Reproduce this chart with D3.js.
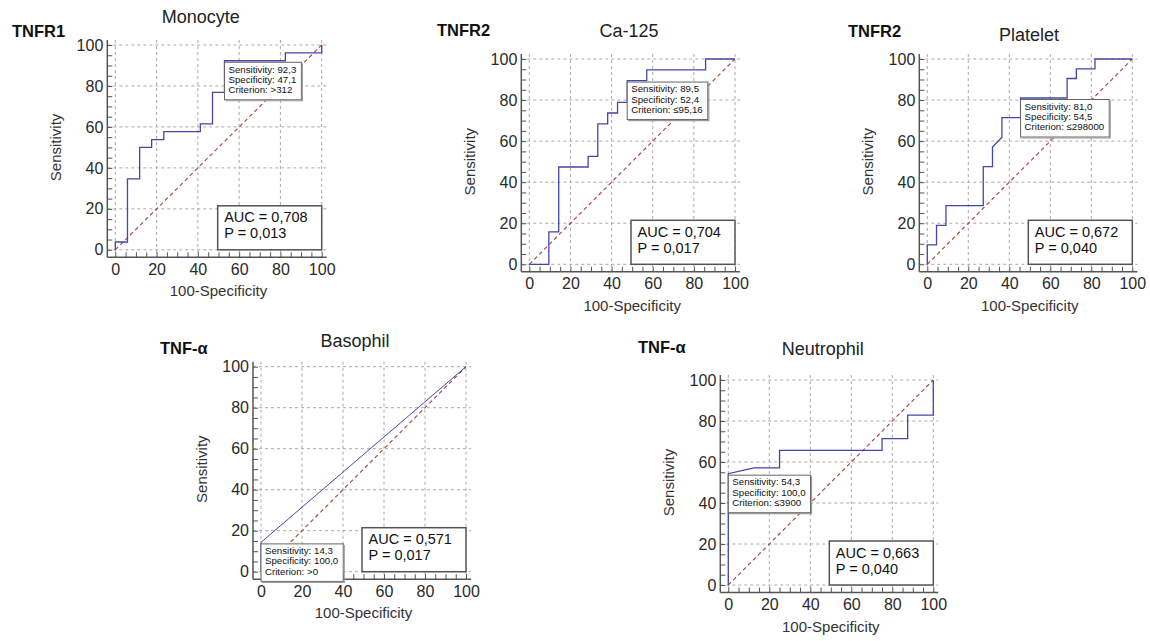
<!DOCTYPE html>
<html><head><meta charset="utf-8">
<script src="https://cdn.jsdelivr.net/npm/d3@7"></script>
<style>
html,body{margin:0;padding:0;background:#fff;}
svg{display:block;font-family:"Liberation Sans",Arial,sans-serif;}
</style></head>
<body>
<svg id="chart" width="1150" height="641"></svg>
<script>
// ---------------- data ----------------
const panelTitles = ["Monocyte", "Ca-125", "Platelet", "Basophil", "Neutrophil"];
const markerLabels = ["TNFR1", "TNFR2", "TNFR2", "TNF-α", "TNF-α"];

const monocyteFpr = [0, 0, 5.9, 5.9, 11.8, 11.8, 17.6, 17.6, 23.5, 23.5, 41.2, 41.2, 47.1, 47.1, 52.9, 52.9, 82.4, 82.4, 100, 100];
const monocyteTpr = [0, 3.8, 3.8, 34.6, 34.6, 50.0, 50.0, 53.8, 53.8, 57.7, 57.7, 61.5, 61.5, 76.9, 76.9, 92.3, 92.3, 96.2, 96.2, 100];

const ca125Fpr = [0, 9.5, 9.5, 14.3, 14.3, 28.6, 28.6, 33.3, 33.3, 38.1, 38.1, 42.9, 42.9, 47.6, 47.6, 57.1, 57.1, 85.7, 85.7, 100];
const ca125Tpr = [0, 0, 15.8, 15.8, 47.4, 47.4, 52.6, 52.6, 68.4, 68.4, 73.7, 73.7, 78.9, 78.9, 89.5, 89.5, 94.7, 94.7, 100, 100];

const plateletFpr = [0, 0, 4.5, 4.5, 9.1, 9.1, 27.3, 27.3, 31.8, 31.8, 36.4, 36.4, 45.5, 45.5, 68.2, 68.2, 72.7, 72.7, 81.8, 81.8, 100];
const plateletTpr = [0, 9.5, 9.5, 19.0, 19.0, 28.6, 28.6, 47.6, 47.6, 57.1, 61.9, 71.4, 71.4, 81.0, 81.0, 90.5, 90.5, 95.2, 95.2, 100, 100];

const basophilFpr = [0, 0, 100];
const basophilTpr = [0, 14.3, 100];

const neutrophilFpr = [0, 0, 12.5, 25, 25, 75, 75, 87.5, 87.5, 100, 100];
const neutrophilTpr = [0, 54.3, 57.1, 57.1, 65.7, 65.7, 71.4, 71.4, 82.9, 82.9, 100];

const aucValues = ["0,708", "0,704", "0,672", "0,571", "0,663"];
const pValues = ["0,013", "0,017", "0,040", "0,017", "0,040"];
const sensitivityValues = ["92,3", "89,5", "81,0", "14,3", "54,3"];
const specificityValues = ["47,1", "52,4", "54,5", "100,0", "100,0"];
const criterionValues = [">312", "≤95,16", "≤298000", ">0", "≤3900"];

const tickValues = [0, 20, 40, 60, 80, 100];
const minorTickValues = d3.range(0, 101, 5);

const fprSeries = [monocyteFpr, ca125Fpr, plateletFpr, basophilFpr, neutrophilFpr];
const tprSeries = [monocyteTpr, ca125Tpr, plateletTpr, basophilTpr, neutrophilTpr];

// ---------------- layout ----------------
const layout = [
  {x0: 115.3, x1: 321.7, y0: 249.8, y1: 45,    tx: 200.7, ty: 23,    mx: 12,  my: 36.7},
  {x0: 529.3, x1: 735,   y0: 264.3, y1: 59,    tx: 629,   ty: 36.7,  mx: 437, my: 36},
  {x0: 927.3, x1: 1132.3,y0: 264.3, y1: 59,    tx: 1029,  ty: 40.5,  mx: 848, my: 36.7},
  {x0: 261,   x1: 466,   y0: 571.7, y1: 366.7, tx: 355,   ty: 346.7, mx: 160, my: 354},
  {x0: 728.3, x1: 933.3, y0: 585,   y1: 380,   tx: 822.7, ty: 355,   mx: 638, my: 353.3}
];

const svg = d3.select("#chart");
const num = s => parseFloat(s.replace(",", "."));

panelTitles.forEach((title, i) => {
  const L = layout[i];
  const x = d3.scaleLinear().domain([0, 100]).range([L.x0, L.x1]);
  const y = d3.scaleLinear().domain([0, 100]).range([L.y0, L.y1]);
  const axX = L.x0 - 8, axY = L.y0 + 7.5;
  const top = L.y1 - 5, right = L.x1 + 5;
  const g = svg.append("g");

  // grid
  g.selectAll(".vg").data(tickValues).join("line")
    .attr("x1", d => x(d)).attr("x2", d => x(d)).attr("y1", top).attr("y2", axY)
    .attr("stroke", "#aaa").attr("stroke-width", 1).attr("stroke-dasharray", "3,3");
  g.selectAll(".hg").data(tickValues).join("line")
    .attr("x1", axX).attr("x2", right).attr("y1", d => y(d)).attr("y2", d => y(d))
    .attr("stroke", "#aaa").attr("stroke-width", 1).attr("stroke-dasharray", "3,3");

  // minor ticks via d3 axes (pointing inward)
  const leftMinor = g.append("g").attr("transform", `translate(${axX},0)`)
    .call(d3.axisLeft(y).tickValues(minorTickValues).tickSize(-5).tickFormat(""));
  const botMinor = g.append("g").attr("transform", `translate(0,${axY})`)
    .call(d3.axisBottom(x).tickValues(minorTickValues).tickSize(-5).tickFormat(""));
  [leftMinor, botMinor].forEach(a => { a.select(".domain").remove(); a.selectAll("line").attr("stroke", "#555"); });

  // major labels
  const leftAx = g.append("g").attr("transform", `translate(${axX},0)`)
    .call(d3.axisLeft(y).tickValues(tickValues).tickSize(0).tickPadding(4));
  const botAx = g.append("g").attr("transform", `translate(0,${axY})`)
    .call(d3.axisBottom(x).tickValues(tickValues).tickSize(0).tickPadding(6));
  [leftAx, botAx].forEach(a => {
    a.select(".domain").remove();
    a.selectAll("text").attr("font-size", 16).attr("fill", "#2a2a2a")
      .attr("font-family", "'Liberation Sans', Arial, sans-serif");
  });

  // axis lines
  g.append("line").attr("x1", axX).attr("x2", axX).attr("y1", top).attr("y2", axY)
    .attr("stroke", "#555").attr("stroke-width", 1.5);
  g.append("line").attr("x1", axX).attr("x2", right).attr("y1", axY).attr("y2", axY)
    .attr("stroke", "#555").attr("stroke-width", 1.5);

  // diagonal reference
  g.append("line").attr("x1", x(0)).attr("y1", y(0)).attr("x2", x(100)).attr("y2", y(100))
    .attr("stroke", "#b03c3c").attr("stroke-width", 1.1).attr("stroke-dasharray", "4,3");

  // ROC curve
  const pts = fprSeries[i].map((f, k) => [f, tprSeries[i][k]]);
  g.append("path").datum(pts)
    .attr("d", d3.line().x(d => x(d[0])).y(d => y(d[1])))
    .attr("fill", "none").attr("stroke", "#4646a8").attr("stroke-width", i === 3 ? 1 : 1.3);

  // AUC box
  const bw = 104, bh = 44;
  const bx = x(100) - bw, by = y(0) - bh;
  g.append("rect").attr("x", bx).attr("y", by).attr("width", bw).attr("height", bh)
    .attr("fill", "#fff").attr("stroke", "#555").attr("stroke-width", 1.5);
  g.append("text").attr("x", bx + 6.5).attr("y", by + 16.5).attr("font-size", 14.5).attr("fill", "#111")
    .text(`AUC = ${aucValues[i]}`);
  g.append("text").attr("x", bx + 6.5).attr("y", by + 32.5).attr("font-size", 14.5).attr("fill", "#111")
    .text(`P = ${pValues[i]}`);

  // annotation box at criterion point
  const ax = x(100 - num(specificityValues[i])), ay = y(num(sensitivityValues[i])) + 1.5;
  const lines = [`Sensitivity: ${sensitivityValues[i]}`, `Specificity: ${specificityValues[i]}`, `Criterion: ${criterionValues[i]}`];
  const ag = g.append("g");
  const rect = ag.append("rect");
  const shadow = ag.append("path");
  const texts = ag.selectAll("text").data(lines).join("text")
    .attr("x", ax + 4).attr("y", (d, k) => ay + 10.3 + k * 10.2)
    .attr("font-size", 9.7).attr("fill", "#111").text(d => d);
  let maxW = 0;
  texts.each(function () { maxW = Math.max(maxW, this.getComputedTextLength()); });
  const aw = maxW + 9, ah = 37.5;
  rect.attr("x", ax).attr("y", ay).attr("width", aw).attr("height", ah)
    .attr("fill", "#fff").attr("stroke", "#666").attr("stroke-width", 1);
  shadow.attr("d", `M${ax + aw + 1},${ay + 1}V${ay + ah + 1}H${ax + 1}`)
    .attr("fill", "none").attr("stroke", "#999").attr("stroke-width", 1.2);

  // titles
  g.append("text").attr("x", L.tx).attr("y", L.ty).attr("text-anchor", "middle")
    .attr("font-size", 18).attr("fill", "#222").text(title);
  g.append("text").attr("x", L.mx).attr("y", L.my).attr("font-size", 16.5).attr("font-weight", "bold")
    .attr("fill", "#111").text(markerLabels[i]);
  g.append("text").attr("x", (L.x0 + L.x1) / 2).attr("y", axY + 39).attr("text-anchor", "middle")
    .attr("font-size", 15).attr("fill", "#333").text("100-Specificity");
  g.append("text").attr("transform", `translate(${axX - 46},${(L.y0 + L.y1) / 2}) rotate(-90)`)
    .attr("text-anchor", "middle").attr("font-size", 15).attr("fill", "#333").text("Sensitivity");
});
</script>
</body></html>
